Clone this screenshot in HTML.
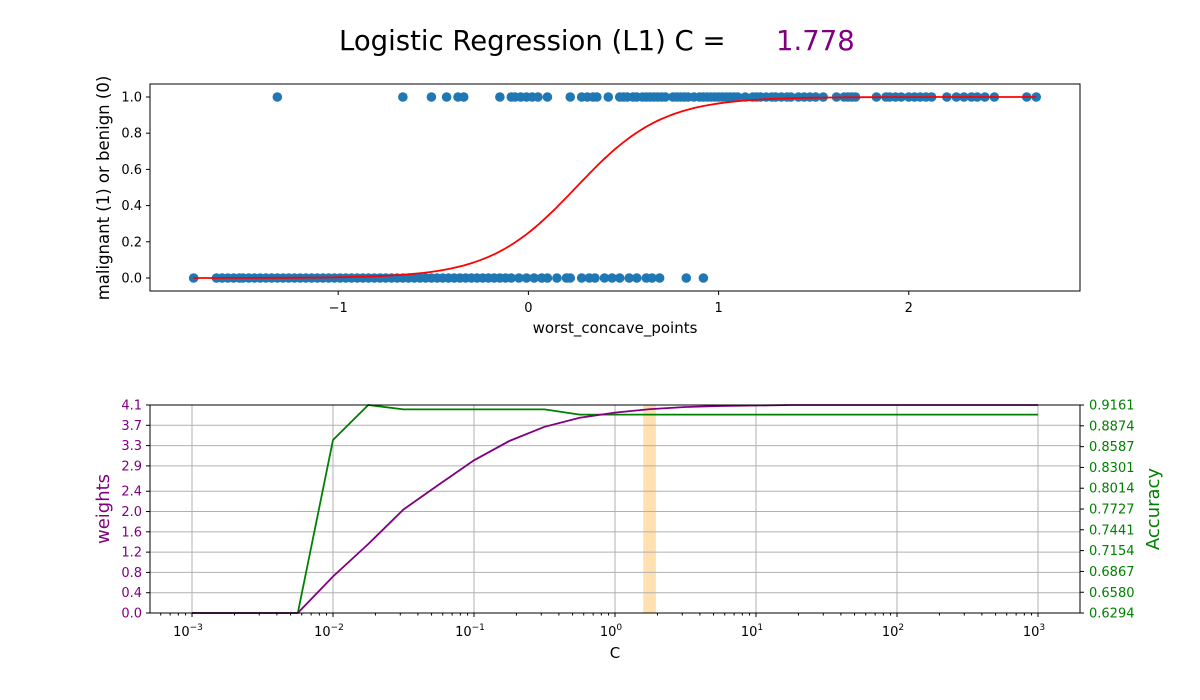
<!DOCTYPE html>
<html><head><meta charset="utf-8">
<style>
html,body{margin:0;padding:0;background:#fff;}
svg{display:block;font-family:"DejaVu Sans","Liberation Sans",sans-serif;}
</style></head>
<body>
<svg id="chart" width="1200" height="700" viewBox="0 0 1200 700">
<text x="339" y="50" font-size="27.5" fill="#000">Logistic Regression (L1) C =</text>
<text x="776" y="50" font-size="27.5" fill="purple">1.778</text>
<g id="topPanel"></g>
<g id="botPanel"></g>
</svg>
<script>
// ---- top panel data ----
const positives = [-1.32,-0.66,-0.51,-0.43,-0.37,-0.34,-0.15,-0.09,-0.07,-0.04,-0.01,0.02,0.05,0.1,0.22,0.28,0.31,0.34,0.36,0.42,0.48,0.5,0.52,0.55,0.57,0.6,0.62,0.64,0.66,0.68,0.7,0.72,0.76,0.78,0.8,0.82,0.84,0.87,0.9,0.92,0.94,0.96,0.98,1.0,1.02,1.04,1.06,1.08,1.1,1.14,1.18,1.2,1.22,1.25,1.28,1.3,1.33,1.36,1.38,1.42,1.45,1.48,1.51,1.55,1.62,1.66,1.68,1.7,1.72,1.83,1.88,1.9,1.93,1.96,2.0,2.03,2.06,2.09,2.12,2.2,2.25,2.29,2.33,2.36,2.4,2.45,2.62,2.67];
const negatives = [-1.76,-1.64,-1.61,-1.58,-1.55,-1.52,-1.5,-1.47,-1.44,-1.41,-1.38,-1.35,-1.32,-1.29,-1.26,-1.23,-1.2,-1.17,-1.14,-1.11,-1.08,-1.05,-1.02,-0.99,-0.96,-0.93,-0.9,-0.87,-0.84,-0.81,-0.78,-0.75,-0.72,-0.69,-0.66,-0.63,-0.6,-0.57,-0.54,-0.51,-0.48,-0.45,-0.42,-0.39,-0.36,-0.33,-0.3,-0.27,-0.24,-0.21,-0.18,-0.15,-0.12,-0.09,-0.05,-0.01,0.03,0.07,0.1,0.15,0.2,0.22,0.28,0.32,0.35,0.4,0.44,0.48,0.53,0.57,0.62,0.65,0.69,0.83,0.92];
const curveSlope = 4.4, curveOffset = -1.1;
const topXTicks = [-1,0,1,2];
const topYTicks = [0.0,0.2,0.4,0.6,0.8,1.0];
// ---- bottom panel data ----
const logC = [-3,-2.75,-2.5,-2.25,-2,-1.75,-1.5,-1.25,-1,-0.75,-0.5,-0.25,0,0.25,0.5,0.75,1,1.25,1.5,1.75,2,2.25,2.5,2.75,3];
const weights = [0,0,0,0,0.72,1.36,2.04,2.53,3.01,3.39,3.67,3.85,3.95,4.02,4.06,4.08,4.09,4.1,4.1,4.1,4.1,4.1,4.1,4.1,4.1];
const accuracy = [0.6294,0.6294,0.6294,0.6294,0.8678,0.9161,0.9101,0.9101,0.9101,0.9101,0.9101,0.9028,0.9028,0.9028,0.9028,0.9028,0.9028,0.9028,0.9028,0.9028,0.9028,0.9028,0.9028,0.9028,0.9028];
const selectedC = 1.778;
const weightTicks = ["0.0","0.4","0.8","1.2","1.6","2.0","2.4","2.9","3.3","3.7","4.1"];
const accTicks = ["0.6294","0.6580","0.6867","0.7154","0.7441","0.7727","0.8014","0.8301","0.8587","0.8874","0.9161"];

const NS="http://www.w3.org/2000/svg";
function mk(parent,tag,attrs,text){const e=document.createElementNS(NS,tag);for(const k in attrs)e.setAttribute(k,attrs[k]);if(text!==undefined)e.textContent=text;parent.appendChild(e);return e;}

// ---- top panel ----
const tp=document.getElementById('topPanel');
const tx=v=>528.4+v*190.2, ty=v=>278-v*181;
let e=mk(tp,'rect',{x:150,y:84,width:930,height:207,fill:'none',stroke:'#000','stroke-width':1});

topXTicks.forEach(t=>{
  const l=mk(tp,'line',{x1:tx(t),x2:tx(t),y1:291,y2:295,stroke:'#000'});
  
  const s=mk(tp,'text',{x:tx(t),y:312,'font-size':13,'text-anchor':'middle'},t<0?'\u2212'+Math.abs(t):String(t));
  
});
topYTicks.forEach(t=>{
  const l=mk(tp,'line',{x1:146,x2:150,y1:ty(t),y2:ty(t),stroke:'#000'});
  
  const s=mk(tp,'text',{x:142,y:ty(t)+4.5,'font-size':13,'text-anchor':'end'},t.toFixed(1));
  
});
e=mk(tp,'text',{x:615,y:333,'font-size':15,'text-anchor':'middle'},'worst_concave_points');

e=mk(tp,'text',{x:0,y:0,'font-size':16.5,'text-anchor':'middle',transform:'translate(109,188) rotate(-90)'},'malignant (1) or benign (0)');

positives.forEach(v=>{const c=mk(tp,'circle',{cx:tx(v),cy:ty(1),r:4.8,fill:'#1f77b4'});
  });
negatives.forEach(v=>{const c=mk(tp,'circle',{cx:tx(v),cy:ty(0),r:4.8,fill:'#1f77b4'});
  });
let pts=[];const xmin=Math.min(...negatives,...positives),xmax=Math.max(...negatives,...positives);
for(let i=0;i<=200;i++){const v=xmin+(xmax-xmin)*i/200;pts.push(tx(v).toFixed(1)+','+ty(1/(1+Math.exp(-(curveSlope*v+curveOffset)))).toFixed(1));}
e=mk(tp,'polyline',{points:pts.join(' '),fill:'none',stroke:'red','stroke-width':1.8});


// ---- bottom panel ----
const bp=document.getElementById('botPanel');
const bx=lc=>192+(lc+3)*141, wy=v=>613-v/4.1*208;
const accMin=parseFloat(accTicks[0]),accMax=parseFloat(accTicks[accTicks.length-1]);
const ay=v=>613-(v-accMin)/(accMax-accMin)*208;
const lsc=Math.log10(selectedC);
e=mk(bp,'rect',{x:bx(lsc-0.05),y:405,width:bx(lsc+0.04)-bx(lsc-0.05),height:208,fill:'#ffe0b0'});

weightTicks.forEach(t=>{const y=wy(parseFloat(t));
  const g=mk(bp,'line',{x1:150,x2:1080,y1:y,y2:y,stroke:'#b0b0b0','stroke-width':1});
  });
for(let d=-3;d<=3;d++){const g=mk(bp,'line',{x1:bx(d),x2:bx(d),y1:405,y2:613,stroke:'#b0b0b0','stroke-width':1});
  }
e=mk(bp,'polyline',{points:logC.map((c,i)=>bx(c).toFixed(1)+','+ay(accuracy[i]).toFixed(1)).join(' '),fill:'none',stroke:'green','stroke-width':1.8});

e=mk(bp,'polyline',{points:logC.map((c,i)=>bx(c).toFixed(1)+','+wy(weights[i]).toFixed(1)).join(' '),fill:'none',stroke:'purple','stroke-width':1.8});

e=mk(bp,'rect',{x:150,y:405,width:930,height:208,fill:'none',stroke:'#000','stroke-width':1});

for(let d=-4;d<=3;d++){
  if(d>=-3){const l=mk(bp,'line',{x1:bx(d),x2:bx(d),y1:613,y2:617,stroke:'#000'});
    
    const s=mk(bp,'text',{x:bx(d)-4,y:636,'font-size':13,'text-anchor':'middle'},'10');
    
    mk(s,'tspan',{dy:-6,'font-size':9},d<0?'\u2212'+Math.abs(d):String(d));}
  for(let m=2;m<=9;m++){const x=bx(d+Math.log10(m));if(x<150||x>1080)continue;
    const l=mk(bp,'line',{x1:x,x2:x,y1:613,y2:615.5,stroke:'#000'});
    }
}
weightTicks.forEach(t=>{const y=wy(parseFloat(t));
  const l=mk(bp,'line',{x1:146,x2:150,y1:y,y2:y,stroke:'#000'});
  
  const s=mk(bp,'text',{x:142,y:y+4.5,'font-size':13,'text-anchor':'end',fill:'purple'},t);
  });
accTicks.forEach(t=>{const y=ay(parseFloat(t));
  const l=mk(bp,'line',{x1:1080,x2:1084,y1:y,y2:y,stroke:'#000'});
  
  const s=mk(bp,'text',{x:1089,y:y+4.5,'font-size':13,fill:'green'},t);
  });
e=mk(bp,'text',{x:615,y:658,'font-size':15,'text-anchor':'middle'},'C');

e=mk(bp,'text',{x:0,y:0,'font-size':18,'text-anchor':'middle',fill:'purple',transform:'translate(109,509) rotate(-90)'},'weights');

e=mk(bp,'text',{x:0,y:0,'font-size':18,'text-anchor':'middle',fill:'green',transform:'translate(1159,509) rotate(-90)'},'Accuracy');

</script>
</body></html>
